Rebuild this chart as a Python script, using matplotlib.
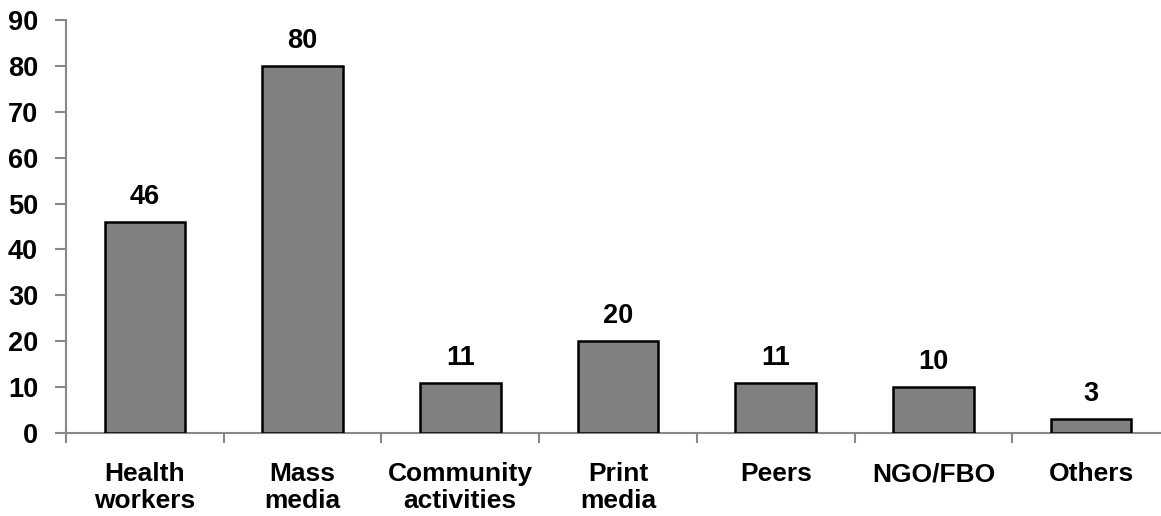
import matplotlib.pyplot as plt
import numpy as np

plt.rcParams['font.family'] = ['Liberation Sans', 'DejaVu Sans']

categories = ["Health\nworkers", "Mass\nmedia", "Community\nactivities", "Print\nmedia",
              "Peers", "NGO/FBO", "Others"]
values = [46, 80, 11, 20, 11, 10, 3]

fig = plt.figure(figsize=(11.61, 5.16), dpi=100)
ax = fig.add_axes([66/1161, 83/516, 1104/1161, 413/516])

x = np.arange(len(values))
ax.bar(x, values, width=0.51, color="#808080", edgecolor="black", linewidth=1.8, zorder=3)

for xi, v in zip(x, values):
    ax.text(xi, v + 2.6, str(v), ha="center", va="bottom", fontsize=19.5, fontweight="bold")

ax.set_xlim(-0.5, len(values) - 0.5)
ax.set_ylim(0, 90)
ax.set_yticks(np.arange(0, 91, 10))
ax.set_xticks(x)
ax.set_xticklabels(categories, fontsize=19, fontweight="bold", linespacing=1.15)
ax.set_xticks(np.arange(-0.5, len(values), 1), minor=True)
ax.tick_params(axis="x", which="major", length=0, pad=21)
ax.tick_params(axis="x", which="minor", length=7, color="#888888", width=1.5)
ax.tick_params(axis="y", length=8, color="#888888", width=1.5, labelsize=19.5, pad=12)
for lab in ax.get_yticklabels():
    lab.set_fontweight("bold")

for s in ["top", "right"]:
    ax.spines[s].set_visible(False)
for s in ["left", "bottom"]:
    ax.spines[s].set_color("#888888")
    ax.spines[s].set_linewidth(1.5)

fig.savefig("out.png", dpi=100)
